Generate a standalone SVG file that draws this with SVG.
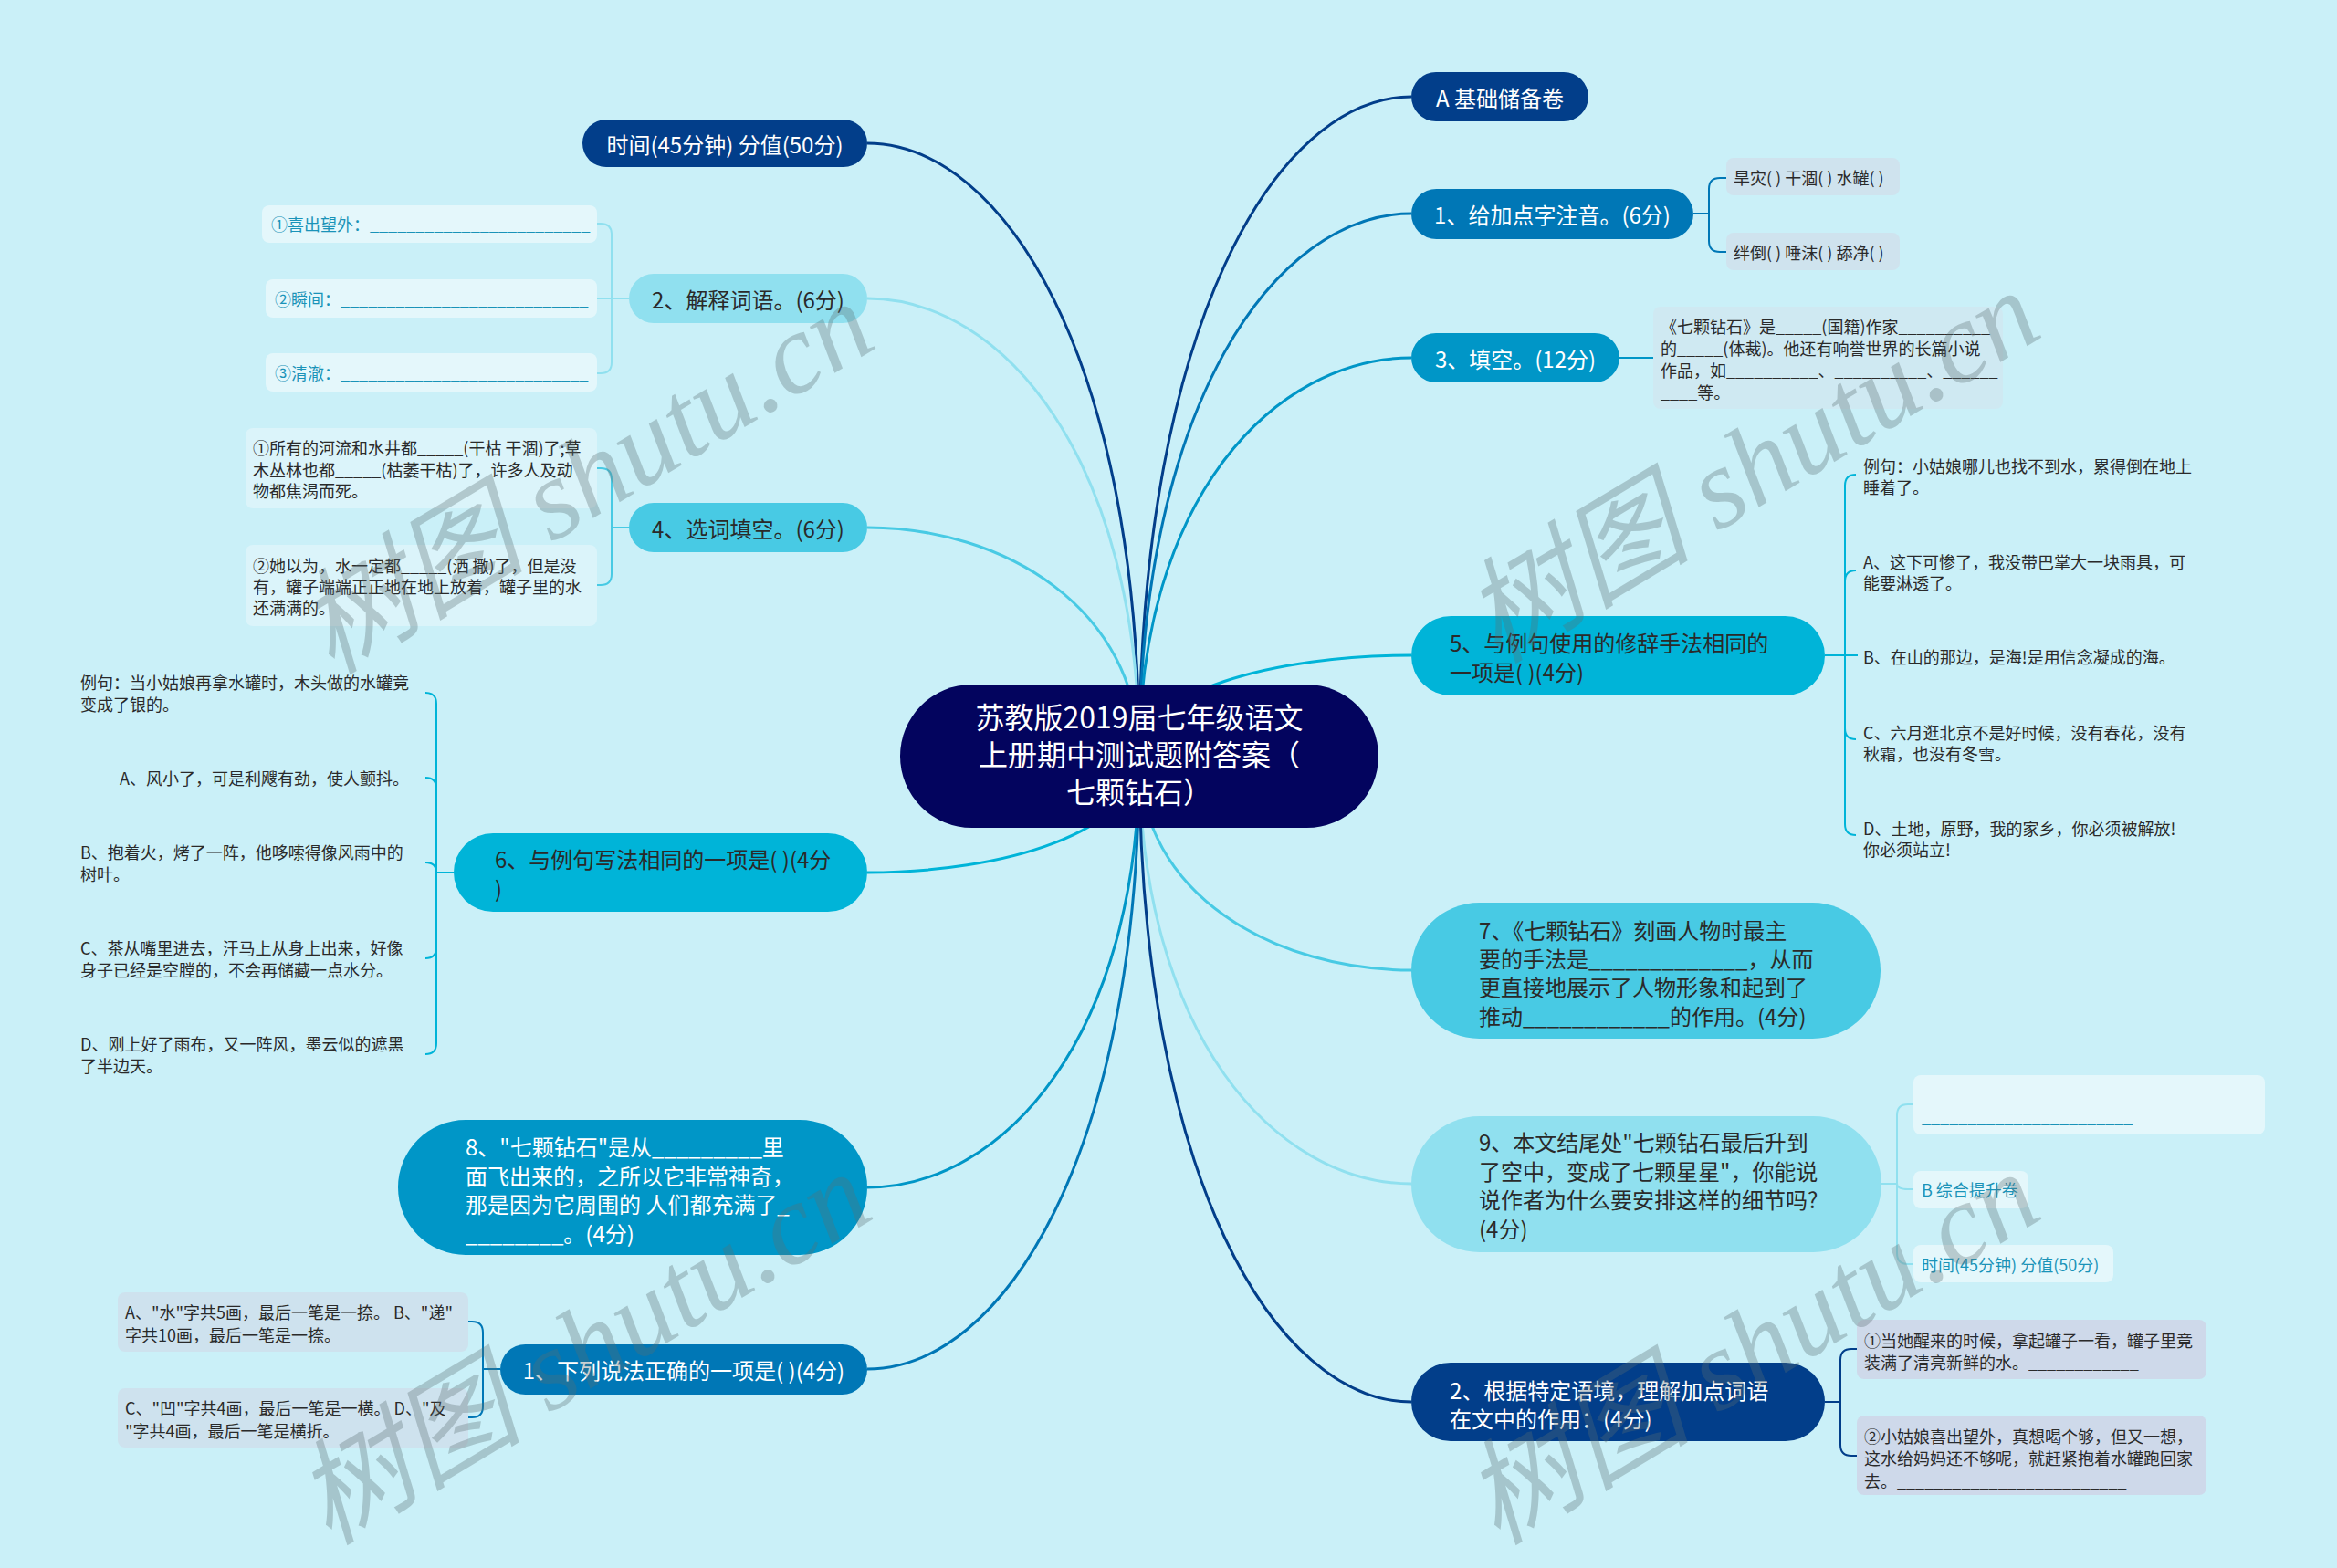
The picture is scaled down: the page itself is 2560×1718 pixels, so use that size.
<svg xmlns="http://www.w3.org/2000/svg" width="2560" height="1718" viewBox="0 0 2560 1718">
<defs>
<style>
text{font-family:"Noto Sans CJK SC","Liberation Sans",sans-serif;dominant-baseline:central}
.n1{font-size:24px}
.lf{font-size:18px}
.w{fill:#ffffff}
.d{fill:#2a2a2a}
.tl{fill:#1a93b8}
.ctr{text-anchor:middle}
.con path{fill:none;stroke-width:3}
.br path{fill:none;stroke-width:2}
.wm{font-family:"Liberation Serif","Noto Sans CJK SC",serif;font-style:italic;font-size:125px;fill:#5a6e72;opacity:.32;dominant-baseline:auto}
</style>
</defs>
<rect width="2560" height="1718" fill="#CAF0F8"/>

<g id="connectors" class="con">
<path d="M1248 829 C1248 392 1099 157 950 157" stroke="#023E8A"/>
<path d="M1248 829 C1248 503 1099 327 950 327" stroke="#90E0EF"/>
<path d="M1248 829 C1248 666 1099 578 950 578" stroke="#48CAE4"/>
<path d="M1248 829 C1248 912 1099 956 950 956" stroke="#00B4D8"/>
<path d="M1248 829 C1248 1136 1099 1301 950 1301" stroke="#0096C7"/>
<path d="M1248 829 C1248 1265 1099 1500 950 1500" stroke="#0077B6"/>
<path d="M1248 829 C1248 359 1397 106 1546 106" stroke="#023E8A"/>
<path d="M1248 829 C1248 442 1397 234 1546 234" stroke="#0077B6"/>
<path d="M1248 829 C1248 545 1397 392 1546 392" stroke="#0096C7"/>
<path d="M1248 829 C1248 757 1397 718 1546 718" stroke="#00B4D8"/>
<path d="M1248 829 C1248 981 1397 1063 1546 1063" stroke="#48CAE4"/>
<path d="M1248 829 C1248 1133 1397 1297 1546 1297" stroke="#90E0EF"/>
<path d="M1248 829 C1248 1289 1397 1536 1546 1536" stroke="#023E8A"/>
</g>

<g id="branches" class="br">
<g stroke="#90E0EF">
<path d="M689 327 H670 V257 Q670 245 658 245 H654"/>
<path d="M689 327 H654"/>
<path d="M689 327 H670 V397 Q670 409 658 409 H654"/>
</g>
<g stroke="#48CAE4">
<path d="M689 578 H670 V525 Q670 513 658 513 H654"/>
<path d="M689 578 H670 V629 Q670 641 658 641 H654"/>
</g>
<g stroke="#00B4D8">
<path d="M497 956 H478 V771 Q478 759 466 759"/>
<path d="M497 956 H478 V864 Q478 852 466 852"/>
<path d="M497 956 H478 Q478 945 466 945"/>
<path d="M497 956 H478 V1038 Q478 1050 466 1050"/>
<path d="M497 956 H478 V1143 Q478 1155 466 1155"/>
</g>
<g stroke="#0077B6">
<path d="M548 1500 H529 V1460 Q529 1448 517 1448 H513"/>
<path d="M548 1500 H529 V1541 Q529 1553 517 1553 H513"/>
<path d="M1855 234 H1872 V207 Q1872 195 1884 195 H1891"/>
<path d="M1855 234 H1872 V264 Q1872 276 1884 276 H1891"/>
</g>
<g stroke="#0096C7">
<path d="M1774 392 H1811"/>
</g>
<g stroke="#00B4D8">
<path d="M1999 718 H2021 V532 Q2021 520 2033 520"/>
<path d="M1999 718 H2021 V637 Q2021 625 2033 625"/>
<path d="M1999 718 H2035"/>
<path d="M1999 718 H2021 V798 Q2021 810 2033 810"/>
<path d="M1999 718 H2021 V903 Q2021 915 2033 915"/>
</g>
<g stroke="#90E0EF">
<path d="M2061 1297 H2078 V1222 Q2078 1210 2090 1210 H2096"/>
<path d="M2061 1297 H2078 Q2078 1303 2090 1303 H2096"/>
<path d="M2061 1297 H2078 V1373 Q2078 1385 2090 1385 H2096"/>
</g>
<g stroke="#023E8A">
<path d="M1999 1536 H2016 V1490 Q2016 1478 2028 1478 H2034"/>
<path d="M1999 1536 H2016 V1583 Q2016 1595 2028 1595 H2034"/>
</g>
</g>

<g id="root">
<rect x="986" y="750" width="524" height="157" rx="78.5" fill="#03045E"/>
<text class="w ctr" x="1248" y="784" font-size="32">苏教版2019届七年级语文</text>
<text class="w ctr" x="1248" y="825" font-size="32">上册期中测试题附答案（</text>
<text class="w ctr" x="1248" y="866" font-size="32">七颗钻石）</text>
</g>

<g id="n-time-left">
<rect x="638" y="131" width="312" height="52" rx="26" fill="#023E8A"/>
<text class="n1 w ctr" x="794" y="157">时间(45分钟) 分值(50分)</text>
</g>
<g id="n-jieshi">
<rect x="689" y="300" width="261" height="54" rx="27" fill="#90E0EF"/>
<text class="n1 d ctr" x="819.5" y="327">2、解释词语。(6分)</text>
</g>
<g id="n-xuanci">
<rect x="689" y="551" width="261" height="54" rx="27" fill="#48CAE4"/>
<text class="n1 d ctr" x="819.5" y="578">4、选词填空。(6分)</text>
</g>
<g id="n-6">
<rect x="497" y="913" width="453" height="86" rx="43" fill="#00B4D8"/>
<text class="n1 d" x="542" y="940">6、与例句写法相同的一项是( )(4分</text>
<text class="n1 d" x="542" y="972">)</text>
</g>
<g id="n-8">
<rect x="436" y="1227" width="514" height="148" rx="74" fill="#0096C7"/>
<text class="n1 w" x="510" y="1255">8、"七颗钻石"是从_________里</text>
<text class="n1 w" x="510" y="1287">面飞出来的，之所以它非常神奇，</text>
<text class="n1 w" x="510" y="1318">那是因为它周围的 人们都充满了_</text>
<text class="n1 w" x="510" y="1350">________。(4分)</text>
</g>
<g id="n-1-left">
<rect x="548" y="1473" width="402" height="55" rx="27.5" fill="#0077B6"/>
<text class="n1 w ctr" x="749" y="1500">1、下列说法正确的一项是( )(4分)</text>
</g>

<g id="n-a">
<rect x="1546" y="79" width="194" height="54" rx="27" fill="#023E8A"/>
<text class="n1 w ctr" x="1643" y="106">A 基础储备卷</text>
</g>
<g id="n-1-right">
<rect x="1546" y="207" width="309" height="55" rx="27.5" fill="#0077B6"/>
<text class="n1 w ctr" x="1700.5" y="234">1、给加点字注音。(6分)</text>
</g>
<g id="n-3">
<rect x="1546" y="365" width="228" height="54" rx="27" fill="#0096C7"/>
<text class="n1 w ctr" x="1660" y="392">3、填空。(12分)</text>
</g>
<g id="n-5">
<rect x="1546" y="675" width="453" height="87" rx="43.5" fill="#00B4D8"/>
<text class="n1 d" x="1588" y="703">5、与例句使用的修辞手法相同的</text>
<text class="n1 d" x="1588" y="735">一项是( )(4分)</text>
</g>
<g id="n-7">
<rect x="1546" y="989" width="514" height="149" rx="74.5" fill="#48CAE4"/>
<text class="n1 d" x="1620" y="1018">7、《七颗钻石》刻画人物时最主</text>
<text class="n1 d" x="1620" y="1049">要的手法是_____________，从而</text>
<text class="n1 d" x="1620" y="1080">更直接地展示了人物形象和起到了</text>
<text class="n1 d" x="1620" y="1112">推动____________的作用。(4分)</text>
</g>
<g id="n-9">
<rect x="1546" y="1223" width="515" height="149" rx="74.5" fill="#90E0EF"/>
<text class="n1 d" x="1620" y="1250">9、本文结尾处"七颗钻石最后升到</text>
<text class="n1 d" x="1620" y="1282">了空中，变成了七颗星星"，你能说</text>
<text class="n1 d" x="1620" y="1313">说作者为什么要安排这样的细节吗?</text>
<text class="n1 d" x="1620" y="1345">(4分)</text>
</g>
<g id="n-2-right">
<rect x="1546" y="1493" width="453" height="86" rx="43" fill="#023E8A"/>
<text class="n1 w" x="1588" y="1522">2、根据特定语境，理解加点词语</text>
<text class="n1 w" x="1588" y="1553">在文中的作用：(4分)</text>
</g>

<g id="leaf-jieshi-1">
<rect x="287" y="225" width="367" height="41" rx="8" fill="#E4F7FB"/>
<text class="lf tl" x="297" y="245">①喜出望外：________________________</text>
</g>
<g id="leaf-jieshi-2">
<rect x="291" y="306" width="363" height="42" rx="8" fill="#E4F7FB"/>
<text class="lf tl" x="301" y="327">②瞬间：___________________________</text>
</g>
<g id="leaf-jieshi-3">
<rect x="291" y="387" width="363" height="42" rx="8" fill="#E4F7FB"/>
<text class="lf tl" x="301" y="408">③清澈：___________________________</text>
</g>
<g id="leaf-xuanci-1">
<rect x="269" y="469" width="385" height="88" rx="8" fill="#DBF4FA"/>
<text class="lf d" x="277" y="490">①所有的河流和水井都_____(干枯 干涸)了;草</text>
<text class="lf d" x="277" y="514">木丛林也都_____(枯萎干枯)了，许多人及动</text>
<text class="lf d" x="277" y="537">物都焦渴而死。</text>
</g>
<g id="leaf-xuanci-2">
<rect x="269" y="597" width="385" height="89" rx="8" fill="#DBF4FA"/>
<text class="lf d" x="277" y="619">②她以为，水一定都_____(洒 撒)了，但是没</text>
<text class="lf d" x="277" y="642">有，罐子端端正正地在地上放着，罐子里的水</text>
<text class="lf d" x="277" y="665">还满满的。</text>
</g>
<g id="leaf-6-ex">
<text class="lf d" x="88" y="747">例句：当小姑娘再拿水罐时，木头做的水罐竟</text>
<text class="lf d" x="88" y="771">变成了银的。</text>
</g>
<g id="leaf-6-a">
<text class="lf d" x="131" y="852">A、风小了，可是利飕有劲，使人颤抖。</text>
</g>
<g id="leaf-6-b">
<text class="lf d" x="88" y="933">B、抱着火，烤了一阵，他哆嗦得像风雨中的</text>
<text class="lf d" x="88" y="957">树叶。</text>
</g>
<g id="leaf-6-c">
<text class="lf d" x="88" y="1038">C、茶从嘴里进去，汗马上从身上出来，好像</text>
<text class="lf d" x="88" y="1062">身子已经是空膛的，不会再储藏一点水分。</text>
</g>
<g id="leaf-6-d">
<text class="lf d" x="88" y="1143">D、刚上好了雨布，又一阵风，墨云似的遮黑</text>
<text class="lf d" x="88" y="1167">了半边天。</text>
</g>
<g id="leaf-1l-a">
<rect x="129" y="1416" width="384" height="65" rx="8" fill="#CEE2EE"/>
<text class="lf d" x="137" y="1437">A、"水"字共5画，最后一笔是一捺。 B、"递"</text>
<text class="lf d" x="137" y="1462">字共10画，最后一笔是一捺。</text>
</g>
<g id="leaf-1l-c">
<rect x="129" y="1521" width="384" height="65" rx="8" fill="#CEE2EE"/>
<text class="lf d" x="137" y="1542">C、"凹"字共4画，最后一笔是一横。 D、"及</text>
<text class="lf d" x="137" y="1567">"字共4画，最后一笔是横折。</text>
</g>

<g id="leaf-1r-1">
<rect x="1891" y="173" width="190" height="41" rx="8" fill="#CFE3EE"/>
<text class="lf d" x="1899" y="194">旱灾( ) 干涸( ) 水罐( )</text>
</g>
<g id="leaf-1r-2">
<rect x="1891" y="255" width="190" height="41" rx="8" fill="#CFE3EE"/>
<text class="lf d" x="1899" y="276">绊倒( ) 唾沫( ) 舔净( )</text>
</g>
<g id="leaf-3">
<rect x="1811" y="336" width="383" height="112" rx="8" fill="#CFE9F2"/>
<text class="lf d" x="1819" y="357">《七颗钻石》是_____(国籍)作家__________</text>
<text class="lf d" x="1819" y="381">的_____(体裁)。他还有响誉世界的长篇小说</text>
<text class="lf d" x="1819" y="405">作品，如__________、__________、______</text>
<text class="lf d" x="1819" y="429">____等。</text>
</g>
<g id="leaf-5-ex">
<text class="lf d" x="2041" y="510">例句：小姑娘哪儿也找不到水，累得倒在地上</text>
<text class="lf d" x="2041" y="533">睡着了。</text>
</g>
<g id="leaf-5-a">
<text class="lf d" x="2041" y="615">A、这下可惨了，我没带巴掌大一块雨具，可</text>
<text class="lf d" x="2041" y="638">能要淋透了。</text>
</g>
<g id="leaf-5-b">
<text class="lf d" x="2041" y="719">B、在山的那边，是海!是用信念凝成的海。</text>
</g>
<g id="leaf-5-c">
<text class="lf d" x="2041" y="802">C、六月逛北京不是好时候，没有春花，没有</text>
<text class="lf d" x="2041" y="825">秋霜，也没有冬雪。</text>
</g>
<g id="leaf-5-d">
<text class="lf d" x="2041" y="907">D、土地，原野，我的家乡，你必须被解放!</text>
<text class="lf d" x="2041" y="930">你必须站立!</text>
</g>
<g id="leaf-9-1">
<rect x="2096" y="1178" width="385" height="65" rx="8" fill="#E4F7FB"/>
<text class="lf tl" x="2105" y="1199">____________________________________</text>
<text class="lf tl" x="2105" y="1223">_______________________</text>
</g>
<g id="leaf-9-b">
<rect x="2096" y="1283" width="126" height="41" rx="8" fill="#E4F7FB"/>
<text class="lf tl" x="2105" y="1303">B 综合提升卷</text>
</g>
<g id="leaf-9-time">
<rect x="2096" y="1364" width="219" height="41" rx="8" fill="#E4F7FB"/>
<text class="lf tl" x="2105" y="1385">时间(45分钟) 分值(50分)</text>
</g>
<g id="leaf-2r-1">
<rect x="2034" y="1446" width="383" height="65" rx="8" fill="#CED9EA"/>
<text class="lf d" x="2042" y="1468">①当她醒来的时候，拿起罐子一看，罐子里竟</text>
<text class="lf d" x="2042" y="1492">装满了清亮新鲜的水。____________</text>
</g>
<g id="leaf-2r-2">
<rect x="2034" y="1551" width="383" height="87" rx="8" fill="#CED9EA"/>
<text class="lf d" x="2042" y="1573">②小姑娘喜出望外，真想喝个够，但又一想，</text>
<text class="lf d" x="2042" y="1597">这水给妈妈还不够呢，就赶紧抱着水罐跑回家</text>
<text class="lf d" x="2042" y="1622">去。_________________________</text>
</g>

<g id="watermarks">
<text class="wm" x="363" y="740" transform="rotate(-31 363 740)">树图 shutu.cn</text>
<text class="wm" x="1640" y="728" transform="rotate(-31 1640 728)">树图 shutu.cn</text>
<text class="wm" x="360" y="1694" transform="rotate(-31 360 1694)">树图 shutu.cn</text>
<text class="wm" x="1640" y="1694" transform="rotate(-31 1640 1694)">树图 shutu.cn</text>
</g>
</svg>
